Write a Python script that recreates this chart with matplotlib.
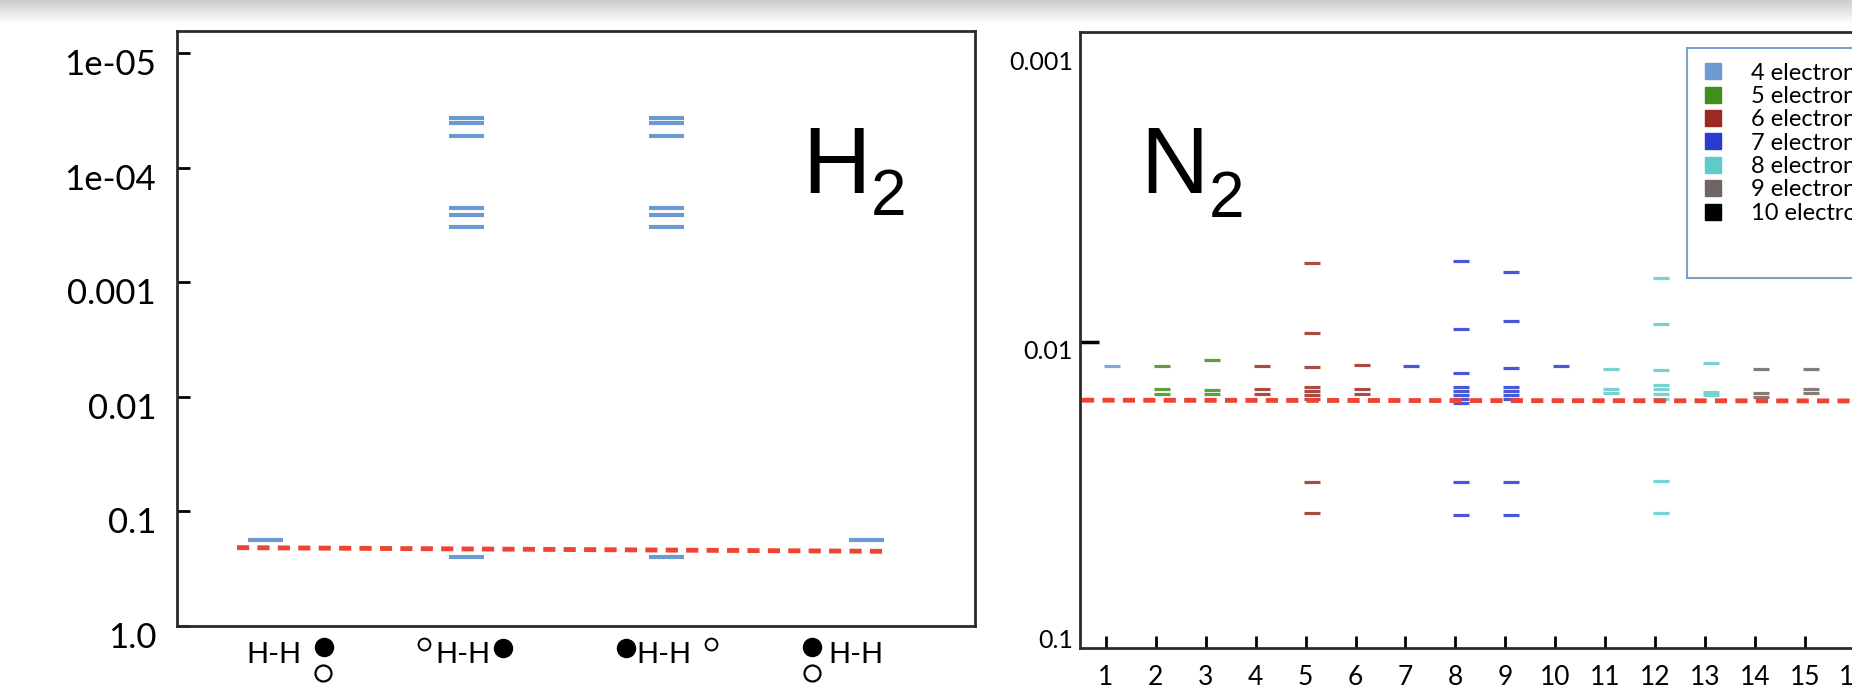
import numpy as np
import matplotlib.pyplot as plt
from matplotlib.lines import Line2D
from matplotlib.patches import Rectangle
from matplotlib.ticker import NullLocator, NullFormatter
from matplotlib.transforms import ScaledTranslation

plt.rcParams['font.family'] = ['Lato', 'DejaVu Sans']

# ---- data ----
H2_CATS = [1, 2, 3, 4]
H2_LEVELS = [
    [0.176],
    [3.67e-5, 4.03e-5, 5.27e-5, 2.24e-4, 2.56e-4, 3.28e-4, 0.252],
    [3.67e-5, 4.03e-5, 5.27e-5, 2.24e-4, 2.56e-4, 3.28e-4, 0.250],
    [0.176],
]
H2_REF = [0.207, 0.223]
H2_YTICKS = [1e-5, 1e-4, 1e-3, 1e-2, 1e-1, 1.0]
H2_YLABELS = ['1e-05', '1e-04', '0.001', '0.01', '0.1', '1.0']

N2_CATS = list(range(1, 17))
N2_GROUP = [4, 5, 5, 6, 6, 6, 7, 7, 7, 7, 8, 8, 8, 9, 9, 9]
N2_LEVELS = [
    [0.0121],
    [0.0121, 0.0145, 0.0151],
    [0.0115, 0.0147, 0.0151],
    [0.0121, 0.0145, 0.0151],
    [0.00533, 0.00931, 0.0122, 0.0143, 0.0148, 0.0153, 0.0158, 0.0305, 0.0391],
    [0.0120, 0.0146, 0.0151],
    [0.0121],
    [0.00525, 0.00902, 0.0128, 0.0143, 0.0148, 0.0153, 0.0158, 0.0163, 0.0305, 0.0397],
    [0.00573, 0.00846, 0.0123, 0.0143, 0.0148, 0.0153, 0.0158, 0.0305, 0.0397],
    [0.0121],
    [0.0124, 0.0146, 0.0150],
    [0.00601, 0.00867, 0.0125, 0.0141, 0.0146, 0.0151, 0.0157, 0.0303, 0.0391],
    [0.0118, 0.0149, 0.0153],
    [0.0124, 0.0150, 0.0155],
    [0.0124, 0.0146, 0.0150],
    [0.0124],
]
N2_REF = [0.0159, 0.0160]
N2_YTICKS = [0.001, 0.01, 0.1]
N2_YLABELS = ['0.001', '0.01', '0.1']

ELECTRONS = [4, 5, 6, 7, 8, 9, 10]
ELECTRON_COLORS = ['#6b9bd1', '#3f8f1c', '#9b2a23', '#2a3bd0', '#5fcaca', '#6f6562', '#000000']

W, H = 1852, 689
fig = plt.figure(figsize=(W / 100, H / 100), dpi=100)


def px_axes(left, top, right, bottom):
    return fig.add_axes([left / W, 1 - bottom / H, (right - left) / W, (bottom - top) / H])


def shift_labels(ax, dy_px):
    off = ScaledTranslation(0, -dy_px / 100, fig.dpi_scale_trans)
    for lbl in ax.get_yticklabels():
        lbl.set_transform(lbl.get_transform() + off)


# screenshot-like grey band at the top
band = fig.add_axes([0, 1 - 24 / H, 1, 24 / H], zorder=-5)
band.imshow(np.linspace(0.80, 1.0, 60)[:, None], cmap='gray', vmin=0, vmax=1,
            aspect='auto', extent=(0, 1, 0, 1))
band.axis('off')

spine_col = '#2b2b2b'

# ---- H2 panel ----
ax1 = px_axes(177, 31, 975, 626)
ax1.set_yscale('log')
ax1.set_ylim(1.0, 6.4e-6)
ax1.set_xlim(0.555, 4.545)
ax1.set_yticks(H2_YTICKS)
ax1.set_yticklabels(H2_YLABELS)
ax1.yaxis.set_minor_locator(NullLocator())
ax1.set_xticks([])
ax1.tick_params(axis='y', direction='in', length=9, width=2, labelsize=25, pad=15)
for s in ax1.spines.values():
    s.set_linewidth(2)
    s.set_color(spine_col)

for x, levels in zip(H2_CATS, H2_LEVELS):
    ax1.hlines(levels, x - 0.0875, x + 0.0875, color='#6a9ad0', lw=3)
ax1.plot([H2_CATS[0] - 0.145, H2_CATS[-1] + 0.115], H2_REF, color='#ee4433',
         lw=3.5, ls=(0, (2.5, 1.7)))
shift_labels(ax1, 9)

# category labels made of "H-H" and electron circles
xt = ax1.get_xaxis_transform()


def glyph(x, dx, dy, kind):
    tr = xt + ScaledTranslation(dx / 100, -dy / 100, fig.dpi_scale_trans)
    if kind == 'full':
        ax1.plot([x], [0], 'o', ms=13, mfc='black', mec='black', transform=tr, clip_on=False)
    elif kind == 'open':
        ax1.plot([x], [0], 'o', ms=11.5, mfc='white', mec='black', mew=1.6, transform=tr, clip_on=False)
    else:
        ax1.plot([x], [0], 'o', ms=8.5, mfc='white', mec='black', mew=1.4, transform=tr, clip_on=False)


def hh(x, dx):
    tr = xt + ScaledTranslation(dx / 100, -29 / 100, fig.dpi_scale_trans)
    ax1.text(x, 0, 'H-H', transform=tr, ha='center', va='center', fontsize=21, clip_on=False)


x1, x2, x3, x4 = H2_CATS
hh(x1, 8); glyph(x1, 58, 21, 'full'); glyph(x1, 57, 47, 'open')
glyph(x2, -42, 18, 'small'); hh(x2, -3); glyph(x2, 37, 22, 'full')
glyph(x3, -40, 22, 'full'); hh(x3, -2); glyph(x3, 45, 18, 'small')
glyph(x4, -54, 21, 'full'); glyph(x4, -54, 47, 'open'); hh(x4, -10)

fig.text(802 / W, 1 - 193 / H, 'H', fontsize=68, family='Liberation Sans', va='baseline')
fig.text(871 / W, 1 - 215 / H, '2', fontsize=46, family='Liberation Sans', va='baseline')

# ---- N2 panel ----
ax2 = px_axes(1080, 32, 1900, 648)
ax2.set_yscale('log')
ax2.set_ylim(10 ** (-1 + 17 / 289), 10 ** (-3 - 21 / 289))
ax2.set_xlim(0.479, 16.91)
ax2.set_yticks(N2_YTICKS)
ax2.set_yticklabels(N2_YLABELS)
ax2.yaxis.remove_overlapping_locs = False
ax2.set_yticks([0.01], minor=True)
ax2.yaxis.set_minor_formatter(NullFormatter())
ax2.tick_params(axis='y', which='major', length=0, labelsize=18, pad=5)
ax2.tick_params(axis='y', which='minor', direction='in', length=14, width=2.5, color='black')
ax2.set_xticks(N2_CATS)
ax2.tick_params(axis='x', direction='in', length=9, width=2, labelsize=19, pad=12)
for s in ax2.spines.values():
    s.set_linewidth(2)
    s.set_color(spine_col)

shift = 0.12
for x, grp, levels in zip(N2_CATS, N2_GROUP, N2_LEVELS):
    c = ELECTRON_COLORS[ELECTRONS.index(grp)]
    ax2.hlines(levels, x + shift - 0.16, x + shift + 0.16, color=c, lw=2.3, alpha=0.85)
ax2.plot([0.52, 16.9], N2_REF, color='#ee4433', lw=3.5, ls=(0, (2.5, 1.7)))
shift_labels(ax2, 8)

# legend box (taller than its entries, as in the original)
box = Rectangle((1687 / W, 1 - 278 / H), (1900 - 1687) / W, (278 - 48) / H,
                transform=fig.transFigure, facecolor='white', edgecolor='#7aa0cc',
                lw=1.5, zorder=4, clip_on=False)
ax2.add_patch(box)

handles = [Line2D([], [], ls='none', marker='s', ms=12, mfc=c, mec=c) for c in ELECTRON_COLORS]
labels = [f'{n} electrons' for n in ELECTRONS]
leg = ax2.legend(handles, labels, loc='upper left', bbox_to_anchor=(1687 / W, 1 - 48 / H),
                 bbox_transform=fig.transFigure, borderaxespad=0, fontsize=17,
                 labelspacing=0.1, handlelength=1.0, handletextpad=1.1, borderpad=0.62,
                 frameon=False)
leg.set_zorder(5)

fig.text(1140 / W, 1 - 193 / H, 'N', fontsize=68, family='Liberation Sans', va='baseline')
fig.text(1209 / W, 1 - 217 / H, '2', fontsize=46, family='Liberation Sans', va='baseline')

fig.savefig('out.png', dpi=100)
